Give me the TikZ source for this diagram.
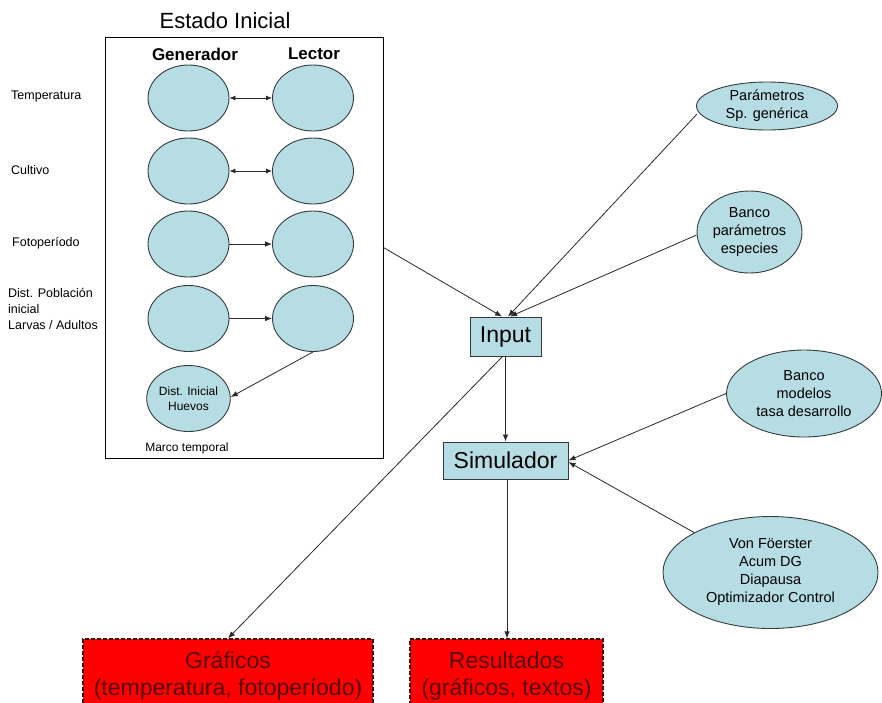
\documentclass[tikz,border=0pt]{standalone}
\usepackage{fontspec}
\setmainfont{Liberation Sans}
\usetikzlibrary{shapes.geometric,arrows.meta}
\definecolor{ellfill}{RGB}{183,221,228}
\definecolor{ellline}{RGB}{50,60,62}
\definecolor{conn}{RGB}{40,40,40}
\definecolor{redfill}{RGB}{255,0,0}
\definecolor{redtext}{RGB}{85,8,8}
\definecolor{redline}{RGB}{60,10,10}
\newcommand{\fsz}[1]{\fontsize{#1}{1.2\dimexpr#1pt\relax}\selectfont}
\tikzset{
  ell/.style={ellipse, draw=ellline, fill=ellfill, line width=0.9pt, inner sep=0pt, align=center},
  smallell/.style={ell, minimum width=81pt, minimum height=66pt},
  boxnode/.style={rectangle, draw=ellline, fill=ellfill, line width=0.9pt, inner sep=0pt, font=\fsz{23}},
  redbox/.style={rectangle, draw=redline, fill=redfill, dashed, dash pattern=on 4pt off 2pt, line width=1.3pt, inner sep=0pt, align=center, text=redtext, font=\fontsize{23}{27}\selectfont},
  conline/.style={draw=conn, line width=0.8pt},
  arr/.style={conline, -{Latex[length=7pt,width=5.5pt]}},
  darr/.style={conline, {Latex[length=6pt,width=5pt]}-{Latex[length=6pt,width=5pt]}},
  lbl/.style={font=\fsz{12.5}, align=left, anchor=west, inner sep=0pt},
  rtxt/.style={font=\fontsize{14.5}{18}\selectfont}
}
\begin{document}
\begin{tikzpicture}[x=1pt,y=-1pt]
\useasboundingbox (0,0) rectangle (882,702);
% Estado inicial frame
\node[font=\fsz{22}] (titulo) at (225,21) {Estado Inicial};
\node[draw=black, line width=0.9pt, minimum width=278pt, minimum height=421pt, inner sep=0pt] (marco) at (244,247.5) {};
\node[font=\bfseries\fsz{17}] (gen) at (195,54) {Generador};
\node[font=\bfseries\fsz{17}] (lec) at (314,54) {Lector};
% ellipses
\node[smallell] (g1) at (188.5,98) {};
\node[smallell] (l1) at (313,98) {};
\node[smallell] (g2) at (188.5,171) {};
\node[smallell] (l2) at (313,171) {};
\node[smallell] (g3) at (188.5,244) {};
\node[smallell] (l3) at (313,244) {};
\node[smallell] (g4) at (188.5,318.5) {};
\node[smallell] (l4) at (313,318.5) {};
\node[smallell, font=\fontsize{12}{15}\selectfont] (huevos) at (188.5,398.5) {Dist. Inicial\\Huevos};
\node[font=\fsz{12}] (marcotemp) at (187,448) {Marco temporal};
% left labels
\node[lbl] (tempe) at (11,96) {Temperatura};
\node[lbl] (cult) at (11,170) {Cultivo};
\node[lbl] (foto) at (12,243) {Fotoperíodo};
\node[lbl, font=\fontsize{12.5}{16}\selectfont] (distpob) at (8,309) {Dist. Población\\inicial\\Larvas / Adultos};
% arrows inside
\draw[darr] (g1.east) -- (l1.west);
\draw[darr] (g2.east) -- (l2.west);
\draw[arr] (g3.east) -- (l3.west);
\draw[arr] (g4.east) -- (l4.west);
\draw[arr] (l4.south) -- ([yshift=1.5pt]huevos.east);
% right side ellipses
\node[ell, rtxt, minimum width=141pt, minimum height=48pt] (param) at (767,106) {Parámetros\\Sp. genérica};
\node[ell, rtxt, minimum width=105pt, minimum height=82pt] (bancop) at (749.5,232) {Banco\\parámetros\\especies};
\node[ell, rtxt, minimum width=155pt, minimum height=87pt] (bancom) at (804,393.5) {Banco\\modelos\\tasa desarrollo};
\node[ell, rtxt, minimum width=215pt, minimum height=112pt] (vonf) at (770.5,572.5) {Von Föerster\\Acum DG\\Diapausa\\Optimizador Control};
% central boxes
\node[boxnode, minimum width=71pt, minimum height=39pt] (input) at (505.5,336.5) {Input};
\node[boxnode, minimum width=125pt, minimum height=37pt] (simul) at (505.5,460.5) {Simulador};
% red boxes
\node[redbox, minimum width=290pt, minimum height=74pt] (graf) at (228,676) {Gráficos\\(temperatura, fotoperíodo)};
\node[redbox, minimum width=193pt, minimum height=74pt] (resul) at (506.5,676) {Resultados\\(gráficos, textos)};
% connectors
\draw[arr] (marco.east) -- ([xshift=-3.5pt]input.north);
\draw[arr] ([xshift=1pt,yshift=-8pt]param.west) -- ([xshift=2.5pt]input.north);
\draw[arr] ([yshift=-3pt]bancop.west) -- ([xshift=4.5pt]input.north);
\draw[arr] (input.south) -- (simul.north);
\draw[arr] ([xshift=-3pt]input.south) -- (graf.north);
\draw[arr] (bancom.west) -- (simul.east);
\draw[arr] (vonf.north west) -- ([yshift=-1.5pt]simul.east);
\draw[arr] ([xshift=1.5pt]simul.south) -- ([xshift=0.5pt]resul.north);
\end{tikzpicture}
\end{document}
